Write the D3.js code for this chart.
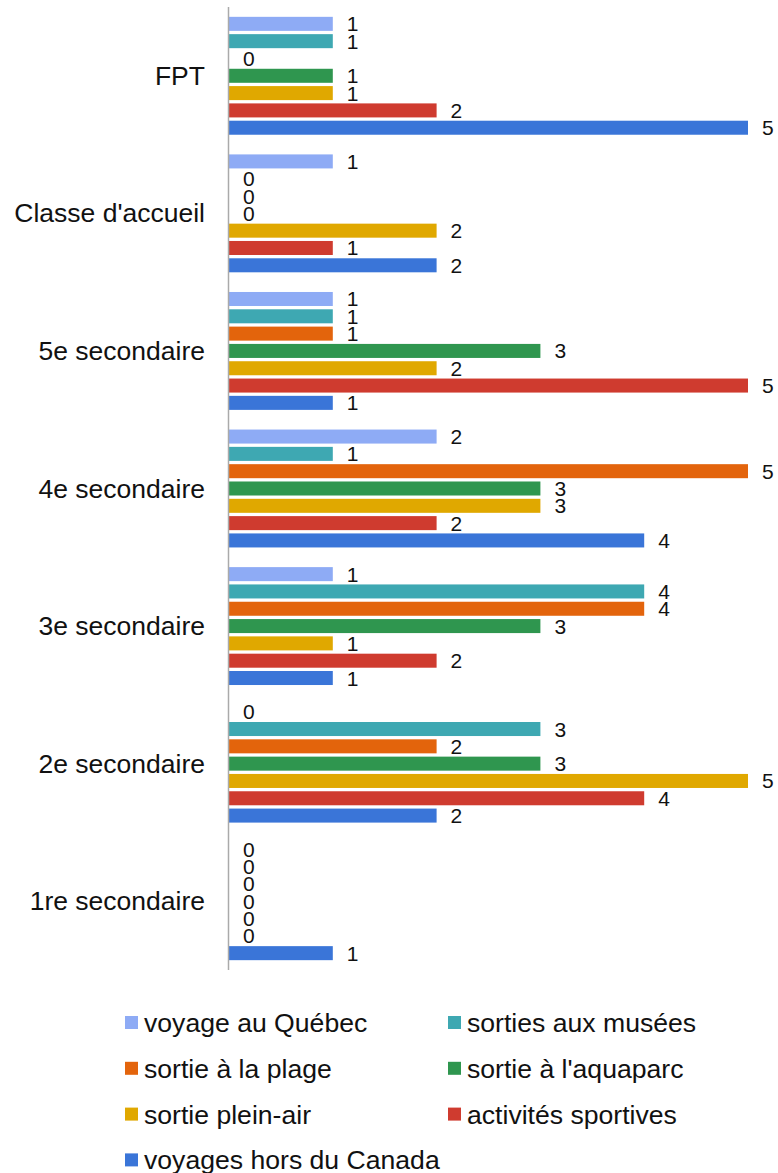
<!DOCTYPE html>
<html>
<head>
<meta charset="utf-8">
<script src="https://cdn.jsdelivr.net/npm/d3@7"></script>
<style>
  html, body { margin: 0; padding: 0; background: #fff; }
  svg text { font-family: Arial, "Liberation Sans", Helvetica, sans-serif; }
</style>
</head>
<body>
<svg id="chart" width="778" height="1173"></svg>
<script>
const categories = ["FPT", "Classe d'accueil", "5e secondaire", "4e secondaire", "3e secondaire", "2e secondaire", "1re secondaire"];
const seriesNames = ["voyage au Québec", "sorties aux musées", "sortie à la plage", "sortie à l'aquaparc", "sortie plein-air", "activités sportives", "voyages hors du Canada"];
const seriesColors = ["#8eabf5", "#3ea8b2", "#e3640c", "#2f964f", "#e0a800", "#cf3b2f", "#3a75d8"];
// values per series, in category order
const voyageQuebec   = [1, 1, 1, 2, 1, 0, 0];
const sortiesMusees  = [1, 0, 1, 1, 4, 3, 0];
const sortiePlage    = [0, 0, 1, 5, 4, 2, 0];
const sortieAquaparc = [1, 0, 3, 3, 3, 3, 0];
const sortiePleinAir = [1, 2, 2, 3, 1, 5, 0];
const activitesSport = [2, 1, 5, 2, 2, 4, 0];
const voyagesHorsCan = [5, 2, 1, 4, 1, 2, 1];
const seriesValues = [voyageQuebec, sortiesMusees, sortiePlage, sortieAquaparc, sortiePleinAir, activitesSport, voyagesHorsCan];
const xDomain = [0, 5];

const svg = d3.select("#chart");
const FONT = "Arial, 'Liberation Sans', Helvetica, sans-serif";

const x = d3.scaleLinear().domain(xDomain).range([229, 748]);
const y = d3.scaleBand().domain(categories).range([7, 970]).paddingInner(0.143).paddingOuter(0.0715);
const yi = d3.scaleBand().domain(d3.range(seriesNames.length)).range([0, y.bandwidth()]).paddingInner(0.19).paddingOuter(0);

const data = [];
categories.forEach((c, ci) => {
  seriesNames.forEach((s, si) => {
    data.push({cat: c, si: si, v: seriesValues[si][ci]});
  });
});

const g = svg.append("g");

g.selectAll("rect.bar").data(data.filter(d => d.v > 0)).join("rect")
  .attr("class", "bar")
  .attr("x", x(0))
  .attr("y", d => y(d.cat) + yi(d.si))
  .attr("width", d => x(d.v) - x(0))
  .attr("height", yi.bandwidth())
  .attr("fill", d => seriesColors[d.si]);

g.selectAll("text.val").data(data).join("text")
  .attr("class", "val")
  .attr("x", d => x(d.v) + 14)
  .attr("y", d => y(d.cat) + yi(d.si) + yi.bandwidth() / 2 + 7.5)
  .attr("font-family", FONT)
  .attr("font-size", 21)
  .attr("fill", "#111")
  .text(d => d.v);

// vertical axis line
svg.append("line")
  .attr("x1", 228.5).attr("x2", 228.5)
  .attr("y1", 7).attr("y2", 970)
  .attr("stroke", "#aaaaaa").attr("stroke-width", 1.5);

// category labels
svg.selectAll("text.cat").data(categories).join("text")
  .attr("class", "cat")
  .attr("x", 205)
  .attr("y", d => y(d) + y.bandwidth() / 2 + 9)
  .attr("text-anchor", "end")
  .attr("font-family", FONT)
  .attr("font-size", 26.5)
  .attr("fill", "#111")
  .text(d => d);

// legend
const legend = svg.append("g");
const colX = [125, 448];
seriesNames.forEach((s, i) => {
  const col = i % 2, row = Math.floor(i / 2);
  const cy = 1022.5 + row * 45.8;
  legend.append("rect")
    .attr("x", colX[col]).attr("y", cy - 6.5)
    .attr("width", 13).attr("height", 13)
    .attr("fill", seriesColors[i]);
  legend.append("text")
    .attr("x", colX[col] + 19).attr("y", cy + 9.5)
    .attr("font-family", FONT)
    .attr("font-size", 26.6)
    .attr("fill", "#111")
    .text(s);
});
</script>
</body>
</html>
